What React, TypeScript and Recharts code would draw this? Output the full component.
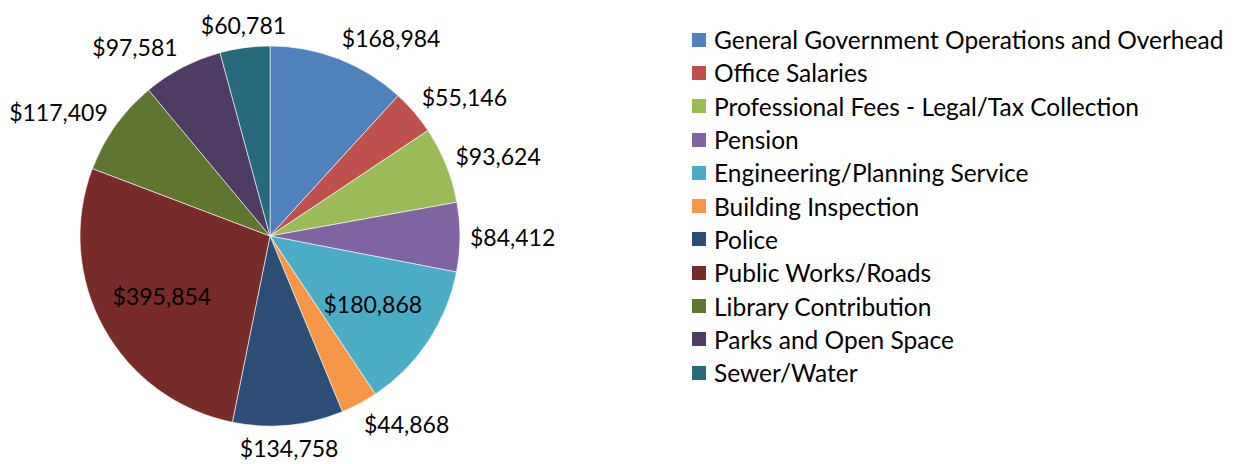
import React from "react";
import { PieChart, Pie, Cell } from "recharts";

const categories = [
  "General Government Operations and Overhead",
  "Office Salaries",
  "Professional Fees - Legal/Tax Collection",
  "Pension",
  "Engineering/Planning Service",
  "Building Inspection",
  "Police",
  "Public Works/Roads",
  "Library Contribution",
  "Parks and Open Space",
  "Sewer/Water",
];

const amounts = [168984, 55146, 93624, 84412, 180868, 44868, 134758, 395854, 117409, 97581, 60781];

const colors = [
  "#4F81BD", "#C0504D", "#9BBB59", "#8064A2", "#4BACC6", "#F79646",
  "#2C4D75", "#772C2A", "#5F7530", "#4D3B62", "#276A7C",
];

const data = categories.map((name, i) => ({ name, value: amounts[i] }));

const FONT = "Lato, 'Open Sans', sans-serif";
const LABEL_SIZE = 23;
const RAD = Math.PI / 180;

const fmt = (v: number) => "$" + v.toLocaleString("en-US");

function renderLabel(props: any) {
  const { cx, cy, midAngle, outerRadius, percent, value } = props;
  const text = fmt(value);
  // recharts angles: 0 = 3 o'clock, counter-clockwise
  const s = Math.cos(-midAngle * RAD);
  const c = Math.sin(-midAngle * RAD); // positive = downward
  let x: number, y: number;
  if (percent > 0.12) {
    // big slices: label sits inside
    const r = outerRadius * 0.65;
    x = cx + r * s;
    y = cy + r * c;
  } else {
    // small slices: label box pushed just outside the rim, excel style
    const halfW = text.length * LABEL_SIZE * 0.265;
    const halfH = LABEL_SIZE * 0.55;
    const r = outerRadius + 10;
    const f = Math.min(1, Math.max(0, (Math.abs(s) - 0.15) / 0.2));
    x = cx + r * s + Math.sign(s) * halfW * f;
    y = cy + r * c + halfH * c;
  }
  return (
    <text
      x={x}
      y={y}
      textAnchor="middle"
      dominantBaseline="central"
      fill="#000"
      fontSize={LABEL_SIZE}
      fontFamily={FONT}
    >
      {text}
    </text>
  );
}

function LegendBox() {
  return (
    <div
      style={{
        position: "absolute",
        left: 692,
        top: 23,
        fontFamily: FONT,
        fontSize: 24.5,
        color: "#000",
      }}
    >
      {data.map((d, i) => (
        <div key={d.name} style={{ display: "flex", alignItems: "center", height: 33.3 }}>
          <span style={{ width: 14, height: 14, background: colors[i], marginRight: 8, flexShrink: 0 }} />
          <span style={{ whiteSpace: "nowrap" }}>{d.name}</span>
        </div>
      ))}
    </div>
  );
}

export default function App() {
  return (
    <div style={{ position: "absolute", left: 0, top: 0, width: 1245, height: 464, background: "#fff" }}>
      <PieChart width={1245} height={464} margin={{ top: 0, right: 0, bottom: 0, left: 0 }}>
        <Pie
          data={data}
          dataKey="value"
          nameKey="name"
          cx={270}
          cy={236}
          outerRadius={190}
          startAngle={90}
          endAngle={-270}
          stroke="#fff"
          strokeWidth={0.6}
          label={renderLabel}
          labelLine={false}
          isAnimationActive={false}
        >
          {data.map((d, i) => (
            <Cell key={d.name} fill={colors[i]} />
          ))}
        </Pie>
      </PieChart>
      <LegendBox />
    </div>
  );
}
